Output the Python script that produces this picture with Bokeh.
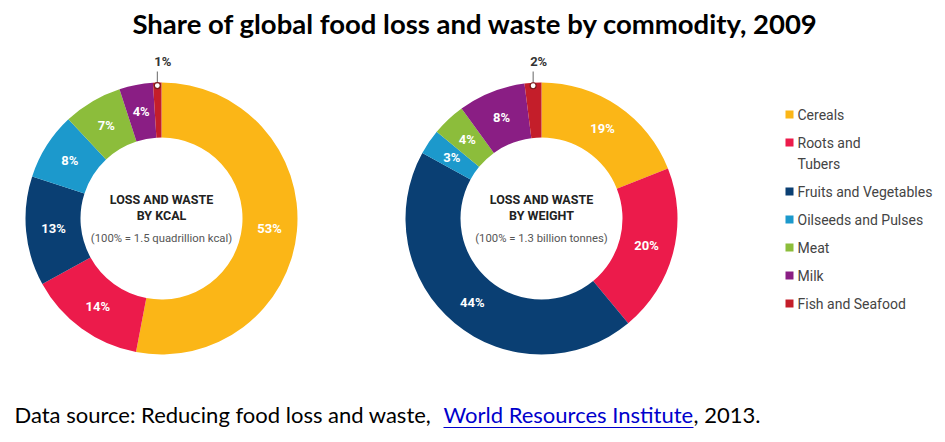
import numpy as np
from bokeh.plotting import figure
from bokeh.models import Range1d
from bokeh.core.properties import value
from bokeh.embed import file_html
from bokeh.resources import INLINE

# ---- data ----
categories = ["Cereals", "Roots and Tubers", "Fruits and Vegetables",
              "Oilseeds and Pulses", "Meat", "Milk", "Fish and Seafood"]
legend_labels = ["Cereals", "Roots and\nTubers", "Fruits and Vegetables",
                 "Oilseeds and Pulses", "Meat", "Milk", "Fish and Seafood"]
kcal_share = [53, 14, 13, 8, 7, 4, 1]
weight_share = [19, 20, 44, 3, 4, 8, 2]
colors = ["#FBB617", "#EC1B4B", "#0A3F73", "#1C99CC", "#8CBD3B", "#8A1E84", "#C41E2A"]

title = "Share of global food loss and waste by commodity, 2009"
W, H = 945, 442

p = figure(width=W, height=H, x_range=Range1d(0, W), y_range=Range1d(0, H),
           output_backend="svg", toolbar_location=None, min_border=0)
p.axis.visible = False
p.grid.visible = False
p.outline_line_color = None
p.background_fill_color = "white"
p.border_fill_color = "white"


def Y(y_img):
    return H - y_img


R_IN, R_OUT = 81, 136


def donut(cx, cy_img, shares, head1, head2, sub):
    cy = Y(cy_img)
    fr = np.array(shares, dtype=float) / sum(shares)
    cum = np.concatenate([[0.0], np.cumsum(fr)])
    start = np.pi / 2 - 2 * np.pi * cum[:-1]
    end = np.pi / 2 - 2 * np.pi * cum[1:]
    p.annular_wedge(x=cx, y=cy, inner_radius=R_IN, outer_radius=R_OUT,
                    start_angle=start, end_angle=end, direction="clock",
                    fill_color=colors, line_color=None)
    mid = (start + end) / 2
    rl = (R_IN + R_OUT) / 2
    n = len(shares)
    xs = [cx + rl * np.cos(a) for a in mid[:n - 1]]
    ys = [cy + rl * np.sin(a) for a in mid[:n - 1]]
    labs = [f"{v}%" for v in shares[:n - 1]]
    p.text(x=xs, y=ys, text=labs, text_color="white", text_font=value("Roboto"),
           text_font_style="bold", text_font_size="13px", text_align="center",
           text_baseline="middle")
    # small slice label outside
    a = mid[n - 1]
    mx = cx + (R_OUT - 3) * np.cos(a)
    my = cy + (R_OUT - 3) * np.sin(a)
    p.segment(x0=[mx], y0=[my], x1=[mx], y1=[Y(71)], line_color="#666666", line_width=1)
    p.scatter(x=[mx], y=[my], size=6, marker="circle", fill_color="white",
              line_color="#7a1a1a", line_width=1.2)
    p.text(x=[mx - 3], y=[Y(61)], text=[f"{shares[n-1]}%"], text_color="#333333",
           text_font=value("Roboto"), text_font_style="bold", text_font_size="13px",
           text_align="left", text_baseline="middle")
    # center text
    p.text(x=[cx, cx], y=[Y(199), Y(215)], text=[head1, head2], text_color="#222222",
           text_font=value("Roboto"), text_font_style="bold", text_font_size="12.5px",
           text_align="center", text_baseline="middle")
    p.text(x=[cx], y=[Y(238)], text=[sub], text_color="#555555",
           text_font=value("Roboto"), text_font_size="11.3px",
           text_align="center", text_baseline="middle")


donut(161, 218, kcal_share, "LOSS AND WASTE", "BY KCAL", "(100% = 1.5 quadrillion kcal)")
donut(541, 218, weight_share, "LOSS AND WASTE", "BY WEIGHT", "(100% = 1.3 billion tonnes)")

# legend
y_img = 114
for lab, col in zip(legend_labels, colors):
    lines = lab.split("\n")
    p.scatter(x=[789], y=[Y(y_img)], size=8, marker="square", fill_color=col, line_color=None)
    for k, ln in enumerate(lines):
        p.text(x=[797], y=[Y(y_img + 21 * k)], text=[ln], text_color="#444444",
               text_font=value("Roboto"), text_font_size="14px",
               text_align="left", text_baseline="middle")
    y_img += 28 + 21 * (len(lines) - 1)

# title
p.text(x=[475], y=[Y(23)], text=[title], text_color="black", text_font=value("Lato"),
       text_font_style="bold", text_font_size="27.5px", text_align="center",
       text_baseline="middle")

# footer
FS = "22px"
p.text(x=[14], y=[Y(414)], text=["Data source: Reducing food loss and waste,"],
       text_color="black", text_font=value("Lato"), text_font_size=FS,
       text_align="left", text_baseline="middle")
p.text(x=[443], y=[Y(414)], text=["World Resources Institute"],
       text_color="#0000CC", text_font=value("Lato"), text_font_size=FS,
       text_align="left", text_baseline="middle")
p.segment(x0=[443], y0=[Y(427)], x1=[693], y1=[Y(427)], line_color="#0000CC", line_width=1.2)
p.text(x=[693], y=[Y(414)], text=[", 2013."],
       text_color="black", text_font=value("Lato"), text_font_size=FS,
       text_align="left", text_baseline="middle")

open("out.html", "w").write(file_html(p, INLINE))
